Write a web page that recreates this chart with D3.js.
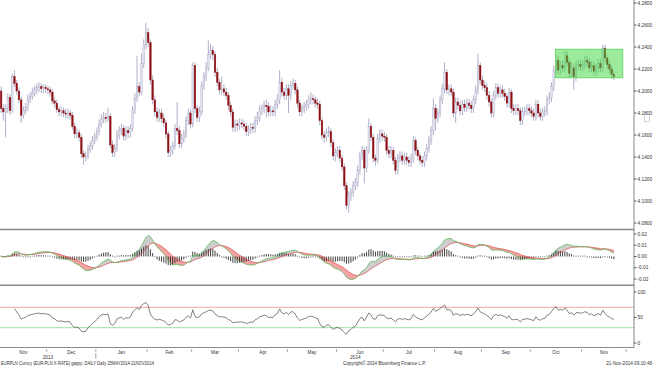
<!DOCTYPE html>
<html>
<head>
<meta charset="utf-8">
<script src="https://cdn.jsdelivr.net/npm/d3@7"></script>
<style>
  html, body { margin: 0; padding: 0; background: #fff; }
  svg { display: block; font-family: "Liberation Sans", Arial, sans-serif; }
</style>
</head>
<body>
<div id="chart"></div>
<script>
// EURPLN daily candles, 1 Nov 2013 - 21 Nov 2014 (one value per weekday)

const firstOpen = 4.200;

const closes = [
  4.184,4.181,4.184,4.194,4.182,4.213,4.207,4.200,4.192,4.178,
  4.182,4.185,4.193,4.195,4.198,4.201,4.203,4.204,4.202,4.203,
  4.202,4.201,4.199,4.191,4.189,4.183,4.181,4.182,4.180,4.179,
  4.180,4.178,4.168,4.161,4.162,4.158,4.143,4.140,4.141,4.147,
  4.150,4.155,4.158,4.163,4.170,4.174,4.176,4.175,4.177,4.151,
  4.144,4.148,4.160,4.164,4.166,4.159,4.164,4.162,4.166,4.182,
  4.193,4.204,4.199,4.225,4.242,4.253,4.244,4.210,4.192,4.181,
  4.176,4.180,4.175,4.171,4.161,4.144,4.146,4.150,4.166,4.164,
  4.152,4.157,4.161,4.173,4.180,4.170,4.223,4.184,4.176,4.181,
  4.205,4.213,4.221,4.233,4.237,4.233,4.217,4.208,4.201,4.202,
  4.199,4.196,4.187,4.181,4.167,4.170,4.169,4.171,4.170,4.168,
  4.163,4.165,4.167,4.166,4.173,4.176,4.182,4.184,4.187,4.186,
  4.181,4.182,4.181,4.188,4.192,4.208,4.199,4.196,4.202,4.196,
  4.205,4.207,4.201,4.189,4.181,4.184,4.186,4.188,4.192,4.193,
  4.192,4.189,4.188,4.173,4.160,4.158,4.162,4.163,4.153,4.141,
  4.144,4.146,4.139,4.131,4.114,4.096,4.105,4.108,4.114,4.117,
  4.128,4.141,4.146,4.130,4.146,4.168,4.158,4.139,4.137,4.157,
  4.161,4.159,4.158,4.146,4.143,4.146,4.137,4.128,4.139,4.141,
  4.137,4.140,4.137,4.135,4.139,4.155,4.146,4.141,4.137,4.135,
  4.141,4.148,4.155,4.164,4.184,4.175,4.180,4.192,4.202,4.217,
  4.201,4.202,4.199,4.180,4.190,4.187,4.182,4.188,4.185,4.189,
  4.187,4.184,4.192,4.201,4.223,4.210,4.205,4.203,4.196,4.190,
  4.180,4.196,4.203,4.198,4.201,4.198,4.195,4.189,4.199,4.184,
  4.182,4.184,4.182,4.173,4.181,4.182,4.184,4.182,4.180,4.177,
  4.188,4.180,4.177,4.181,4.182,4.192,4.194,4.204,4.219,4.228,
  4.219,4.223,4.221,4.232,4.226,4.216,4.221,4.213,4.223,4.224,
  4.222,4.224,4.228,4.226,4.221,4.223,4.218,4.221,4.225,4.221,
  4.239,4.230,4.224,4.220,4.215,4.213
];

const highs = [
  4.204,4.188,4.188,4.198,4.197,4.216,4.219,4.210,4.203,4.195,
  4.186,4.189,4.197,4.199,4.203,4.205,4.207,4.208,4.207,4.206,
  4.206,4.205,4.204,4.202,4.194,4.192,4.186,4.186,4.185,4.184,
  4.184,4.183,4.181,4.171,4.166,4.165,4.161,4.146,4.145,4.151,
  4.154,4.159,4.162,4.167,4.174,4.179,4.181,4.180,4.185,4.180,
  4.155,4.152,4.164,4.168,4.170,4.169,4.168,4.168,4.170,4.186,
  4.198,4.232,4.208,4.234,4.247,4.262,4.257,4.247,4.214,4.196,
  4.185,4.184,4.184,4.179,4.174,4.164,4.150,4.154,4.170,4.190,
  4.168,4.161,4.165,4.177,4.184,4.183,4.226,4.226,4.187,4.186,
  4.209,4.217,4.226,4.246,4.243,4.241,4.236,4.221,4.211,4.213,
  4.206,4.203,4.199,4.190,4.184,4.174,4.174,4.175,4.175,4.174,
  4.171,4.169,4.171,4.171,4.177,4.181,4.187,4.188,4.191,4.192,
  4.190,4.187,4.186,4.192,4.197,4.219,4.212,4.203,4.206,4.206,
  4.209,4.211,4.210,4.204,4.192,4.188,4.190,4.192,4.196,4.199,
  4.197,4.195,4.193,4.191,4.176,4.164,4.166,4.168,4.166,4.156,
  4.148,4.150,4.150,4.142,4.134,4.117,4.109,4.112,4.118,4.121,
  4.132,4.145,4.150,4.149,4.150,4.175,4.171,4.161,4.142,4.161,
  4.165,4.165,4.163,4.161,4.150,4.150,4.149,4.140,4.143,4.145,
  4.145,4.144,4.144,4.141,4.143,4.159,4.158,4.149,4.144,4.141,
  4.145,4.152,4.159,4.168,4.193,4.188,4.184,4.196,4.206,4.226,
  4.220,4.206,4.206,4.202,4.194,4.194,4.191,4.192,4.192,4.193,
  4.193,4.191,4.196,4.205,4.234,4.226,4.214,4.209,4.207,4.200,
  4.193,4.200,4.207,4.207,4.205,4.205,4.202,4.198,4.203,4.202,
  4.188,4.188,4.188,4.185,4.185,4.186,4.188,4.188,4.186,4.184,
  4.192,4.192,4.184,4.185,4.186,4.196,4.199,4.208,4.223,4.233,
  4.232,4.227,4.228,4.236,4.236,4.229,4.226,4.225,4.227,4.229,
  4.228,4.228,4.232,4.232,4.230,4.227,4.227,4.225,4.229,4.229,
  4.242,4.242,4.233,4.227,4.223,4.218
];

const lows = [
  4.180,4.173,4.158,4.180,4.178,4.180,4.204,4.197,4.189,4.171,
  4.175,4.179,4.182,4.189,4.192,4.195,4.197,4.199,4.198,4.198,
  4.198,4.197,4.195,4.188,4.185,4.180,4.177,4.177,4.176,4.175,
  4.175,4.174,4.165,4.157,4.157,4.154,4.139,4.133,4.136,4.138,
  4.144,4.147,4.152,4.155,4.160,4.167,4.171,4.171,4.172,4.148,
  4.140,4.140,4.145,4.156,4.160,4.155,4.155,4.157,4.158,4.163,
  4.179,4.190,4.195,4.196,4.221,4.238,4.240,4.206,4.188,4.177,
  4.172,4.172,4.171,4.167,4.157,4.140,4.140,4.142,4.147,4.160,
  4.148,4.148,4.153,4.157,4.169,4.166,4.167,4.180,4.172,4.172,
  4.178,4.201,4.209,4.218,4.229,4.228,4.213,4.204,4.197,4.196,
  4.195,4.192,4.183,4.177,4.163,4.163,4.164,4.165,4.166,4.164,
  4.159,4.159,4.161,4.162,4.162,4.169,4.172,4.178,4.180,4.176,
  4.177,4.177,4.177,4.177,4.184,4.188,4.195,4.192,4.192,4.180,
  4.192,4.202,4.197,4.185,4.177,4.177,4.180,4.182,4.184,4.188,
  4.188,4.185,4.184,4.169,4.156,4.153,4.154,4.158,4.149,4.137,
  4.136,4.140,4.135,4.127,4.110,4.092,4.089,4.100,4.104,4.110,
  4.113,4.124,4.137,4.116,4.126,4.143,4.154,4.135,4.132,4.134,
  4.153,4.155,4.154,4.142,4.139,4.139,4.133,4.124,4.124,4.135,
  4.133,4.133,4.133,4.131,4.131,4.135,4.142,4.137,4.133,4.131,
  4.131,4.137,4.144,4.151,4.160,4.164,4.171,4.176,4.188,4.198,
  4.197,4.196,4.195,4.176,4.171,4.183,4.178,4.178,4.181,4.181,
  4.183,4.180,4.180,4.188,4.197,4.206,4.201,4.199,4.192,4.186,
  4.176,4.176,4.192,4.194,4.194,4.194,4.191,4.185,4.185,4.180,
  4.178,4.178,4.178,4.169,4.169,4.177,4.178,4.178,4.176,4.173,
  4.173,4.176,4.173,4.173,4.177,4.178,4.188,4.190,4.200,4.215,
  4.215,4.215,4.217,4.217,4.222,4.212,4.212,4.201,4.209,4.219,
  4.218,4.218,4.220,4.222,4.217,4.217,4.214,4.214,4.217,4.217,
  4.217,4.226,4.220,4.216,4.211,4.210
];

// axis labels
const priceTicks = [4.08, 4.10, 4.12, 4.14, 4.16, 4.18, 4.20, 4.22, 4.24, 4.26, 4.28];
const macdTicks = [-0.02, -0.01, 0, 0.01, 0.02];
const rsiTicks = [0, 50, 100];
const rsiLevels = [70, 30];

// highlighted consolidation box: candle index range and price range
const boxIndex = [249.3, 279.5];
const boxPrice = [4.212, 4.238];

const footerLeft = "EURPLN Curncy (EUR-PLN X-RATE) gappy..DAILY  Daily 25MAY2014-21NOV2014";
const footerMid = "Copyright\u00a9 2014 Bloomberg Finance L.P.";
const footerRight = "21-Nov-2014 09:10:48";

// config

const width = 653;
const height = 367;
const n = closes.length;
const axisX = 634;
const mainPanel = { top: 0, bottom: 229 };
const macdPanel = { top: 230.5, bottom: 285 };
const rsiPanel = { top: 286, bottom: 347 };

// trading days (weekdays), extended to 1 Dec 2014 for the last month tick
const days = d3.timeDay.range(new Date(2013, 10, 1), new Date(2014, 11, 2))
  .filter((d) => d.getDay() !== 0 && d.getDay() !== 6);

// open of each day = previous close
const opens = closes.map((c, i) => (i === 0 ? firstOpen : closes[i - 1]));

// indicators: MACD(12,26,9) and RSI(14)

function ema(values, period) {
  const k = 2 / (period + 1);
  let prev = values[0];
  return values.map((v, i) => (prev = i === 0 ? v : v * k + prev * (1 - k)));
}

const ema12 = ema(closes, 12);
const ema26 = ema(closes, 26);
const macd = ema12.map((v, i) => v - ema26[i]);
const signal = ema(macd, 9);
const macdData = macd.map((m, i) => ({ i: i, m: m, s: signal[i], h: m - signal[i] }));

const rsiData = [];
let avgGain = 0;
let avgLoss = 0;
for (let i = 1; i < n; i++) {
  const ch = closes[i] - closes[i - 1];
  const g = Math.max(ch, 0);
  const l = Math.max(-ch, 0);
  if (i <= 14) {
    avgGain = (avgGain * (i - 1) + g) / i;
    avgLoss = (avgLoss * (i - 1) + l) / i;
  } else {
    avgGain = (avgGain * 13 + g) / 14;
    avgLoss = (avgLoss * 13 + l) / 14;
  }
  if (i >= 6) {
    rsiData.push({ i: i, v: avgLoss === 0 ? 100 : 100 - 100 / (1 + avgGain / avgLoss) });
  }
}

// scales

const x = d3.scaleLinear().domain([0, n]).range([0, 615]);
const cx = (i) => x(i + 0.5);
const step = x(1) - x(0);

const yPrice = d3.scaleLinear().domain([4.08, 4.28]).range([223, 3]);
const yMacd = d3.scaleLinear().domain([-0.02, 0.02]).range([279, 234]);
const yRsi = d3.scaleLinear().domain([0, 100]).range([343, 292]);

// main svg

const svg = d3.select("#chart")
  .append("svg")
  .attr("width", width)
  .attr("height", height)
  .attr("viewBox", [0, 0, width, height]);

const defs = svg.append("defs");
[["clipMain", mainPanel], ["clipMacd", macdPanel], ["clipRsi", rsiPanel]].forEach(([id, p]) => {
  defs.append("clipPath").attr("id", id)
    .append("rect")
    .attr("x", 0).attr("y", p.top)
    .attr("width", axisX).attr("height", p.bottom - p.top);
});

// candles

const candles = svg.append("g").attr("clip-path", "url(#clipMain)");

candles.selectAll("line.wick")
  .data(closes)
  .enter()
  .append("line")
  .attr("class", "wick")
  .attr("x1", (d, i) => cx(i))
  .attr("x2", (d, i) => cx(i))
  .attr("y1", (d, i) => yPrice(highs[i]))
  .attr("y2", (d, i) => yPrice(lows[i]))
  .attr("stroke", "#8e8eb2")
  .attr("stroke-width", 0.7);

candles.selectAll("rect.body")
  .data(closes)
  .enter()
  .append("rect")
  .attr("class", "body")
  .attr("x", (d, i) => cx(i) - step * 0.36)
  .attr("width", step * 0.72)
  .attr("y", (d, i) => yPrice(Math.max(opens[i], d)))
  .attr("height", (d, i) => Math.max(0.7, Math.abs(yPrice(opens[i]) - yPrice(d))))
  .attr("fill", (d, i) => (d < opens[i] ? "#8e0f14" : "#e4e4f0"))
  .attr("stroke", (d, i) => (d < opens[i] ? "#8e0f14" : "#a9a9c9"))
  .attr("stroke-width", 0.4);

// green consolidation box, drawn over the candles

svg.append("rect")
  .attr("x", x(boxIndex[0]))
  .attr("y", yPrice(boxPrice[1]))
  .attr("width", x(boxIndex[1]) - x(boxIndex[0]))
  .attr("height", yPrice(boxPrice[0]) - yPrice(boxPrice[1]))
  .attr("fill", "#3ad83a")
  .attr("fill-opacity", 0.5)
  .attr("stroke", "#5ccf5c")
  .attr("stroke-width", 0.8);

// MACD panel

const macdG = svg.append("g").attr("clip-path", "url(#clipMacd)");

macdG.append("path")
  .datum(macdData)
  .attr("fill", "#bdbdbd")
  .attr("fill-opacity", 0.75)
  .attr("d", d3.area()
    .x((d) => cx(d.i))
    .y0((d) => yMacd(d.s))
    .y1((d) => yMacd(Math.max(d.m, d.s))));

macdG.append("path")
  .datum(macdData)
  .attr("fill", "#f08c8c")
  .attr("fill-opacity", 0.8)
  .attr("d", d3.area()
    .x((d) => cx(d.i))
    .y0((d) => yMacd(d.s))
    .y1((d) => yMacd(Math.min(d.m, d.s))));

macdG.selectAll("line.hist")
  .data(macdData)
  .enter()
  .append("line")
  .attr("class", "hist")
  .attr("x1", (d) => cx(d.i))
  .attr("x2", (d) => cx(d.i))
  .attr("y1", yMacd(0))
  .attr("y2", (d) => {
    const y = yMacd(d.h);
    return Math.abs(y - yMacd(0)) < 0.8 ? yMacd(0) + (d.h >= 0 ? -0.8 : 0.8) : y;
  })
  .attr("stroke", "#111")
  .attr("stroke-width", 0.8);

macdG.append("path")
  .datum(macdData)
  .attr("fill", "none")
  .attr("stroke", "#e05a5a")
  .attr("stroke-width", 0.8)
  .attr("d", d3.line().x((d) => cx(d.i)).y((d) => yMacd(d.s)));

macdG.append("path")
  .datum(macdData)
  .attr("fill", "none")
  .attr("stroke", "#5cb85c")
  .attr("stroke-width", 0.8)
  .attr("d", d3.line().x((d) => cx(d.i)).y((d) => yMacd(d.m)));

// RSI panel

const rsiG = svg.append("g").attr("clip-path", "url(#clipRsi)");

rsiG.selectAll("line.level")
  .data(rsiLevels)
  .enter()
  .append("line")
  .attr("class", "level")
  .attr("x1", 0)
  .attr("x2", axisX)
  .attr("y1", (d) => yRsi(d))
  .attr("y2", (d) => yRsi(d))
  .attr("stroke", (d) => (d > 50 ? "#f0a8a8" : "#9be39b"))
  .attr("stroke-width", 1);

rsiG.append("path")
  .datum(rsiData)
  .attr("fill", "none")
  .attr("stroke", "#4a4a4a")
  .attr("stroke-width", 0.7)
  .attr("d", d3.line().x((d) => cx(d.i)).y((d) => yRsi(d.v)));

// frame: panel separators and right axis

svg.selectAll("line.sep")
  .data([229.5, 285.3])
  .enter()
  .append("line")
  .attr("class", "sep")
  .attr("x1", 0)
  .attr("x2", axisX)
  .attr("y1", (d) => d)
  .attr("y2", (d) => d)
  .attr("stroke", "#8a8a8a")
  .attr("stroke-width", 1.4);

svg.append("line")
  .attr("x1", 0).attr("x2", axisX)
  .attr("y1", 347.5).attr("y2", 347.5)
  .attr("stroke", "#8a8a8a")
  .attr("stroke-width", 1);

svg.append("line")
  .attr("x1", axisX).attr("x2", axisX)
  .attr("y1", 0).attr("y2", 347.5)
  .attr("stroke", "#6a6a6a")
  .attr("stroke-width", 0.8);

// right axis labels

function rightAxis(ticks, scale, fmt) {
  const g = svg.append("g");
  g.selectAll("line")
    .data(ticks)
    .enter()
    .append("line")
    .attr("x1", axisX)
    .attr("x2", axisX + 2.5)
    .attr("y1", (d) => scale(d))
    .attr("y2", (d) => scale(d))
    .attr("stroke", "#333")
    .attr("stroke-width", 0.8);
  g.selectAll("text")
    .data(ticks)
    .enter()
    .append("text")
    .attr("x", axisX + 3.5)
    .attr("y", (d) => scale(d))
    .attr("dy", "0.35em")
    .attr("font-size", 4.8)
    .attr("fill", "#333")
    .text(fmt);
}

rightAxis(priceTicks, yPrice, (d) => d.toFixed(4));
rightAxis(macdTicks, yMacd, (d) => d.toFixed(2));
rightAxis(rsiTicks, yRsi, (d) => String(d));

// small marker next to the price scale
svg.append("rect")
  .attr("x", 644.5).attr("y", yPrice(4.1815))
  .attr("width", 5).attr("height", 10)
  .attr("fill", "none")
  .attr("stroke", "#aaa")
  .attr("stroke-width", 0.5);

// month axis

const monthStarts = [];
days.forEach((d, i) => {
  if (i > 0 && d.getMonth() !== days[i - 1].getMonth()) monthStarts.push(i);
});

svg.selectAll("line.mtick")
  .data(monthStarts)
  .enter()
  .append("line")
  .attr("class", "mtick")
  .attr("x1", (d) => x(d))
  .attr("x2", (d) => x(d))
  .attr("y1", 349.5)
  .attr("y2", 351.5)
  .attr("stroke", "#555")
  .attr("stroke-width", 0.7);

const monthSpans = [0].concat(monthStarts).slice(0, -1).map((s, k, arr) => ({
  start: s,
  end: k + 1 < arr.length ? arr[k + 1] : monthStarts[monthStarts.length - 1],
  date: days[s]
}));

svg.selectAll("text.month")
  .data(monthSpans)
  .enter()
  .append("text")
  .attr("class", "month")
  .attr("x", (d) => (x(d.start) + x(d.end)) / 2)
  .attr("y", 353.5)
  .attr("text-anchor", "middle")
  .attr("font-size", 4.6)
  .attr("fill", "#333")
  .text((d) => d3.timeFormat("%b")(d.date));

const janIdx = days.findIndex((d) => d.getFullYear() === 2014);
const years = [
  { label: "2013", x: (x(0) + x(janIdx)) / 2 },
  { label: "2014", x: (x(janIdx) + x(n)) / 2 }
];

svg.selectAll("text.year")
  .data(years)
  .enter()
  .append("text")
  .attr("class", "year")
  .attr("x", (d) => d.x)
  .attr("y", 358.5)
  .attr("text-anchor", "middle")
  .attr("font-size", 4.6)
  .attr("fill", "#333")
  .text((d) => d.label);

svg.append("line")
  .attr("x1", x(janIdx)).attr("x2", x(janIdx))
  .attr("y1", 353).attr("y2", 358.5)
  .attr("stroke", "#666")
  .attr("stroke-width", 0.6);

// footer

svg.append("text")
  .attr("x", 1).attr("y", 364.5)
  .attr("font-size", 4.6)
  .attr("fill", "#333")
  .attr("textLength", 153)
  .attr("lengthAdjust", "spacingAndGlyphs")
  .text(footerLeft);

svg.append("text")
  .attr("x", 343).attr("y", 364.5)
  .attr("font-size", 4.6)
  .attr("fill", "#333")
  .attr("textLength", 83)
  .attr("lengthAdjust", "spacingAndGlyphs")
  .text(footerMid);

svg.append("text")
  .attr("x", 652).attr("y", 364.5)
  .attr("text-anchor", "end")
  .attr("font-size", 4.6)
  .attr("fill", "#333")
  .text(footerRight);
</script>
</body>
</html>
